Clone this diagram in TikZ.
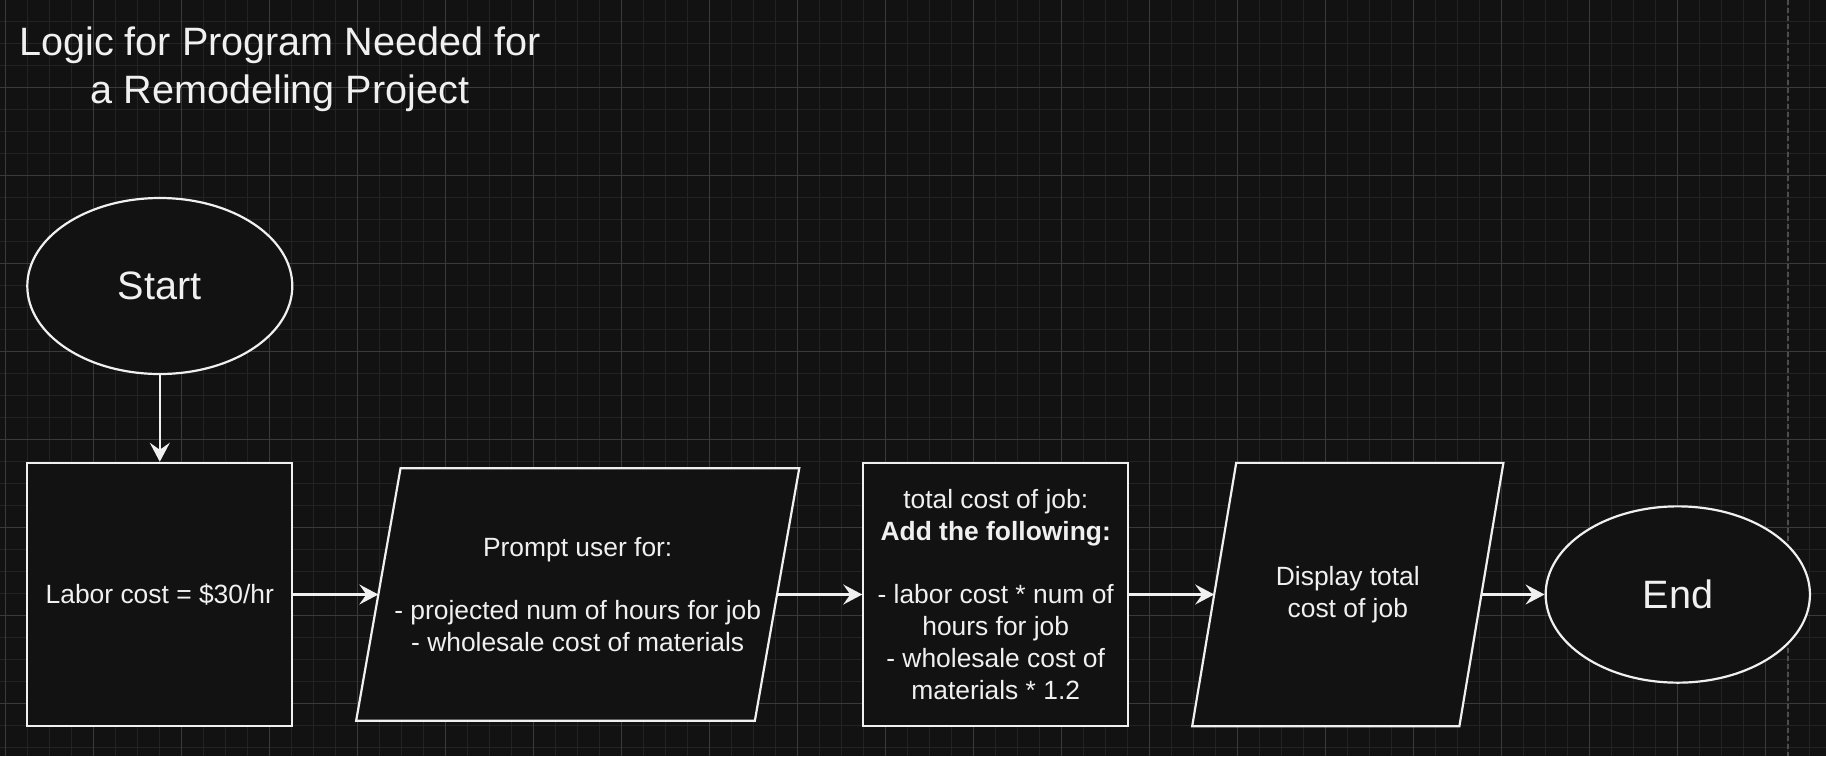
\documentclass[tikz,border=0pt]{standalone}
\usepackage{fontspec}
\setmainfont{Liberation Sans}
\usetikzlibrary{shapes.geometric,arrows.meta}
\definecolor{bg}{HTML}{121212}
\definecolor{shapefill}{HTML}{121212}
\definecolor{fg}{HTML}{F0F0F0}
\definecolor{gridminor}{HTML}{232323}
\definecolor{gridmajor}{HTML}{3A3A3A}
\definecolor{pageline}{HTML}{4D4D4D}
\newcommand\bdfont{\fontsize{26.4}{31.7}\selectfont}
\newcommand\bgfont{\fontsize{39.6}{47.5}\selectfont}
\pgfdeclarelayer{gridlayer}
\pgfdeclarelayer{shapelayer}
\pgfsetlayers{gridlayer,shapelayer,main}
\tikzset{
  shapebase/.style={draw=fg, fill=shapefill, line width=2.2pt, text=fg, inner sep=0pt, align=center, font=\bdfont},
  termbox/.style={shapebase, ellipse, minimum width=265pt, minimum height=176pt, font=\bgfont},
  procbox/.style={shapebase, rectangle, minimum width=265pt, minimum height=263.3pt},
  iotext/.style={text=fg, inner sep=0pt, outer sep=1.1pt, align=center, font=\bdfont, rectangle},
  ioshape/.style={draw=fg, fill=shapefill, line width=2.2pt, line join=miter},
  flow/.style={draw=fg, line width=2.2pt, -{Stealth[length=19pt,width=20pt,inset=7pt,fill=fg]}},
  titletext/.style={text=fg, inner sep=0pt, align=center, font=\bgfont},
}
\begin{document}
\begin{tikzpicture}[x=1pt,y=-1pt]
\useasboundingbox (0,0) rectangle (1826,756);
\begin{pgfonlayer}{gridlayer}
\fill[bg] (0,0) rectangle (1826,756);
\foreach \i in {0,...,82} {
  \draw[gridminor, line width=1pt] ({5.5+22*\i},0) -- ({5.5+22*\i},756);
}
\foreach \i in {1,...,34} {
  \draw[gridminor, line width=1pt] (0,{-0.7+22*\i}) -- (1826,{-0.7+22*\i});
}
\foreach \i in {0,...,20} {
  \draw[gridmajor, line width=1pt] ({5.5+88*\i},0) -- ({5.5+88*\i},756);
}
\foreach \i in {1,...,8} {
  \draw[gridmajor, line width=1pt] (0,{-0.7+88*\i}) -- (1826,{-0.7+88*\i});
}
\draw[pageline, line width=2pt, dash pattern=on 5pt off 3pt] (1787.5,0) -- (1787.5,756);
\end{pgfonlayer}

% title
\node[titletext] (title) at (280,69.5) {Logic for Program Needed for\\a Remodeling Project};

% shapes
\node[termbox] (start) at (159.8,286) {Start};
\node[procbox] (labor) at (159.8,594.5) {Labor cost = \$30/hr};
\node[iotext, minimum width=396.5pt, minimum height=252.5pt] (prompt) at (577.7,594.5)
  {Prompt user for:\\[31.7pt]- projected num of hours for job\\- wholesale cost of materials};
\node[procbox, minimum width=264.7pt] (calc) at (995.7,594.5)
  {total cost of job:\\\textbf{Add the following:}\\[31.7pt]- labor cost * num of\\hours for job\\- wholesale cost of\\materials * 1.2};
\node[iotext, minimum width=265pt, minimum height=263.3pt] (display) at (1347.8,594.5)
  {Display total\\cost of job};
\node[termbox, minimum width=264.3pt, minimum height=176.3pt] (end) at (1677.8,594.5) {End};

% parallelogram outlines behind the text
\begin{pgfonlayer}{shapelayer}
\path[ioshape] ([xshift=22.2pt,yshift=-1.1pt]prompt.north west) -- ([xshift=22.2pt,yshift=-1.1pt]prompt.north east)
  -- ([xshift=-22.2pt,yshift=1.1pt]prompt.south east) -- ([xshift=-22.2pt,yshift=1.1pt]prompt.south west) -- cycle;
\path[ioshape] ([xshift=22pt,yshift=-1.1pt]display.north west) -- ([xshift=22pt,yshift=-1.1pt]display.north east)
  -- ([xshift=-22pt,yshift=1.1pt]display.south east) -- ([xshift=-22pt,yshift=1.1pt]display.south west) -- cycle;
\end{pgfonlayer}

% connectors
\draw[flow] (start.south) -- (labor.north);
\draw[flow] (labor.east) -- (prompt.west);
\draw[flow] (prompt.east) -- (calc.west);
\draw[flow] (calc.east) -- (display.west);
\draw[flow] (display.east) -- (end.west);
\end{tikzpicture}
\end{document}
